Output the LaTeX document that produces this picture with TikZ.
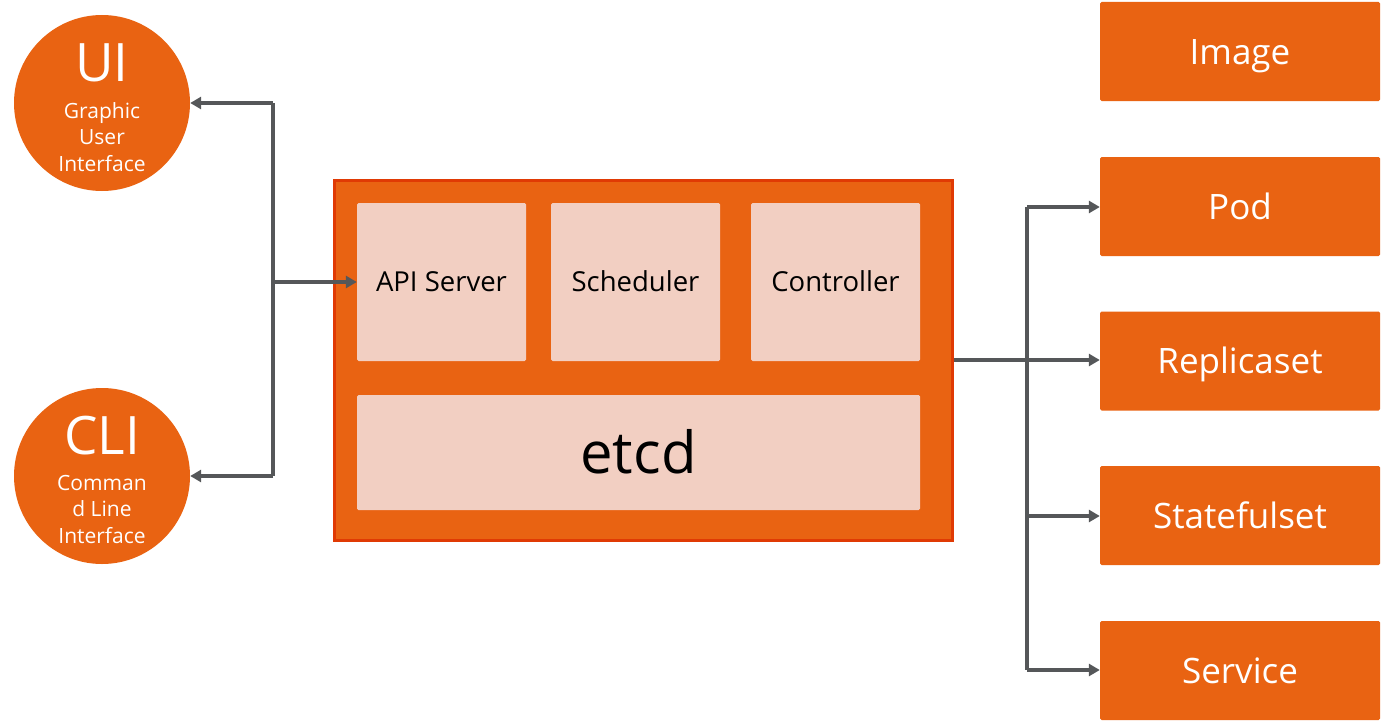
\documentclass[tikz,border=0pt]{standalone}
\usepackage{fontspec}
\setmainfont{Open Sans}
\usetikzlibrary{arrows.meta}
\definecolor{org}{RGB}{233,99,18}
\definecolor{orgdark}{RGB}{224,58,4}
\definecolor{pale}{RGB}{242,207,194}
\definecolor{ln}{RGB}{85,87,89}
\begin{document}
\begin{tikzpicture}[x=1pt,y=-1pt,
  circ/.style={circle,fill=org,minimum size=176pt,inner sep=0pt,text=white,align=center},
  rbox/.style={fill=org,minimum width=280pt,minimum height=99pt,inner sep=0pt,text=white,font=\fontsize{35}{40}\selectfont,text height=25pt,text depth=0pt,rounded corners=1.5pt},
  pbox/.style={fill=pale,inner sep=0pt,rounded corners=1.5pt,font=\fontsize{27.5}{30}\selectfont,text height=19.8pt,text depth=0pt},
  conn/.style={draw=ln,line width=3.2pt,-{Triangle[length=11pt,width=12pt]}},
  plain/.style={draw=ln,line width=3.2pt}]
\useasboundingbox (0,0) rectangle (1394,725);
% left circles
\node[circ] (ui) at (102,103) {};
\node[text=white,font=\fontsize{53}{56}\selectfont] (uit) at (102,63) {UI};
\node[text=white,align=center,font=\fontsize{21}{26.5}\selectfont] (uis) at (102,137) {Graphic\\User\\Interface};
\node[circ] (cli) at (102,476) {};
\node[text=white,font=\fontsize{53}{56}\selectfont] (clit) at (102,436) {CLI};
\node[text=white,align=center,font=\fontsize{21}{26.5}\selectfont] (clis) at (102,509) {Comman\\d Line\\Interface};
% main box
\node[draw=orgdark,line width=3pt,fill=org,minimum width=618pt,minimum height=360pt,inner sep=0pt] (main) at (643,360) {};
\node[pbox,minimum width=169pt,minimum height=158pt] (api) at (441.5,282) {API Server};
\node[pbox,minimum width=169pt,minimum height=158pt] (sch) at (635.5,282) {Scheduler};
\node[pbox,minimum width=169pt,minimum height=158pt] (ctl) at (835.5,282) {Controller};
\node[pbox,minimum width=563pt,minimum height=115pt,font=\fontsize{58}{60}\selectfont,text height=42pt] (etcd) at (638.5,452.5) {etcd};
% right boxes
\node[rbox] (img) at (1240,51.5) {Image};
\node[rbox] (pod) at (1240,206.5) {Pod};
\node[rbox] (rs) at (1240,361) {Replicaset};
\node[rbox] (sts) at (1240,515.5) {Statefulset};
\node[rbox] (svc) at (1240,670.5) {Service};
% left connectors
\coordinate (lb) at (273,282);
\coordinate (lt) at (273,103);
\coordinate (lbo) at (273,476);
\draw[plain] (lt) -- (lbo);
\draw[conn] (lt) -- (ui.east);
\draw[conn] (lbo) -- (cli.east);
\draw[conn] (lb) -- (api.west);
% right connectors
\coordinate (rb) at (1027,360);
\coordinate (rt) at (1027,207);
\coordinate (rbo) at (1027,670);
\draw[plain] (main.east |- rb) -- (rb);
\draw[plain] (rt) -- (rbo);
\draw[conn] (rt) -- (pod.west |- rt);
\draw[conn] (rb) -- (rs.west |- rb);
\draw[conn] (1027,516) -- (sts.west |- 0,516);
\draw[conn] (rbo) -- (svc.west |- rbo);
\end{tikzpicture}
\end{document}
